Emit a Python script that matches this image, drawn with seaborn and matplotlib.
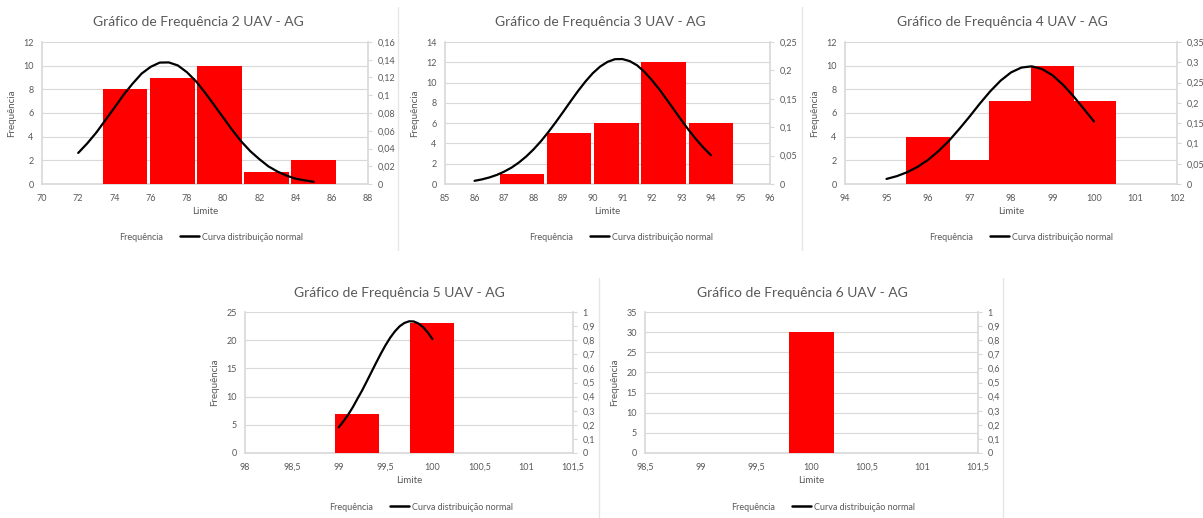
import matplotlib
matplotlib.use("Agg")
import matplotlib.pyplot as plt
import seaborn as sns
from matplotlib.lines import Line2D
from matplotlib.patches import Patch
from matplotlib.ticker import FuncFormatter, MultipleLocator

# ---------------- data ----------------
titles = [
    "Gráfico de Frequência 2 UAV - AG",
    "Gráfico de Frequência 3 UAV - AG",
    "Gráfico de Frequência 4 UAV - AG",
    "Gráfico de Frequência 5 UAV - AG",
    "Gráfico de Frequência 6 UAV - AG",
]

# Panel 2 UAV
uav2_limits = [74.6, 77.2, 79.8, 82.4, 85.0]
uav2_freq = [8, 9, 10, 1, 2]
uav2_curve_x = [72, 72.5, 73, 73.5, 74, 74.5, 75, 75.5, 76, 76.5, 77, 77.5,
                78, 78.5, 79, 79.5, 80, 80.5, 81, 81.5, 82, 82.5, 83, 83.5,
                84, 84.5, 85]
uav2_curve_y = [0.035, 0.0458, 0.058, 0.072, 0.086, 0.1004, 0.113, 0.1244,
                0.132, 0.1368, 0.137, 0.1336, 0.126, 0.1158, 0.103, 0.0891,
                0.075, 0.0609, 0.048, 0.037, 0.028, 0.0199, 0.014, 0.0095,
                0.006, 0.0041, 0.0025]

# Panel 3 UAV
uav3_limits = [87.6, 89.2, 90.8, 92.4, 94.0]
uav3_freq = [1, 5, 6, 12, 6]
uav3_curve_x = [86, 86.25, 86.5, 86.75, 87, 87.25, 87.5, 87.75, 88, 88.25,
                88.5, 88.75, 89, 89.25, 89.5, 89.75, 90, 90.25, 90.5, 90.75,
                91, 91.25, 91.5, 91.75, 92, 92.25, 92.5, 92.75, 93, 93.25,
                93.5, 93.75, 94]
uav3_curve_y = [0.0056, 0.0081, 0.0115, 0.0159, 0.0217, 0.0288, 0.0378,
                0.0485, 0.0611, 0.0755, 0.0916, 0.1089, 0.127, 0.1455,
                0.1635, 0.1802, 0.195, 0.2067, 0.215, 0.2197, 0.220, 0.2164,
                0.209, 0.1975, 0.183, 0.1669, 0.149, 0.1308, 0.1125, 0.0949,
                0.0786, 0.0638, 0.0508]

# Panel 4 UAV
uav4_limits = [96, 97, 98, 99, 100]
uav4_freq = [4, 2, 7, 10, 7]
uav4_curve_x = [95, 95.25, 95.5, 95.75, 96, 96.25, 96.5, 96.75, 97, 97.25,
                97.5, 97.75, 98, 98.25, 98.5, 98.75, 99, 99.25, 99.5, 99.75,
                100]
uav4_curve_y = [0.0125, 0.0194, 0.0291, 0.0423, 0.0594, 0.0808, 0.106,
                0.1352, 0.166, 0.1983, 0.2285, 0.2548, 0.275, 0.287, 0.290,
                0.2832, 0.268, 0.2449, 0.217, 0.1857, 0.154]

# Panel 5 UAV
uav5_limits = [99.2, 100.0]
uav5_freq = [7, 23]
uav5_curve_x = [99.0, 99.05, 99.1, 99.15, 99.2, 99.25, 99.3, 99.35, 99.4,
                99.45, 99.5, 99.55, 99.6, 99.65, 99.7, 99.75, 99.8, 99.85,
                99.9, 99.95, 100.0]
uav5_curve_y = [0.182, 0.2242, 0.271, 0.3243, 0.385, 0.4438, 0.509, 0.5751,
                0.641, 0.7051, 0.765, 0.8183, 0.863, 0.8986, 0.922, 0.934,
                0.933, 0.9187, 0.893, 0.8552, 0.808]

# Panel 6 UAV
uav6_limits = [100.0]
uav6_freq = [30]
uav6_curve_x = []
uav6_curve_y = []

legend_labels = ["Frequência", "Curva distribuição normal"]
xlabel = "Limite"
ylabel = "Frequência"

# ---------------- style ----------------
sns.set_theme(style="white")
plt.rcParams["font.family"] = ["Lato", "DejaVu Sans"]

W, H = 1203, 518
fig = plt.figure(figsize=(W / 100, H / 100), dpi=100)
fig.patch.set_facecolor("white")

GRID = "#D9D9D9"
TXT = "#595959"
RED = "#FF0000"


def fmt(v, pos=None):
    s = f"{v:.2f}".rstrip("0").rstrip(".")
    if s == "-0":
        s = "0"
    return s.replace(".", ",")


panels = [
    (uav2_limits, uav2_freq, uav2_curve_x, uav2_curve_y, 2.45, (70, 88), 2, 12, 2, 0.16, 0.02,
     (42, 368, 42, 184), (198, 22), 200),
    (uav3_limits, uav3_freq, uav3_curve_x, uav3_curve_y, 1.5, (85, 96), 1, 14, 2, 0.25, 0.05,
     (445, 770, 42, 184), (600, 22), 610),
    (uav4_limits, uav4_freq, uav4_curve_x, uav4_curve_y, 1.04, (94, 102), 1, 12, 2, 0.35, 0.05,
     (845, 1177, 42, 184), (1002, 22), 1010),
    (uav5_limits, uav5_freq, uav5_curve_x, uav5_curve_y, 0.47, (98, 101.5), 0.5, 25, 5, 1.0, 0.1,
     (245, 573, 312, 453), (399, 293), 410),
    (uav6_limits, uav6_freq, uav6_curve_x, uav6_curve_y, 0.40, (98.5, 101.5), 0.5, 35, 5, 1.0, 0.1,
     (645, 978, 312, 453), (802, 293), 812),
]

for i, (lims, freq, cx, cy, bw, xlim, xstep, ymax, ystep, y2max, y2step,
        box, tpos, legx) in enumerate(panels):
    l, r, t, b = box
    ax = fig.add_axes([l / W, 1 - b / H, (r - l) / W, (b - t) / H])
    ax2 = ax.twinx()
    ax.set_zorder(1)
    ax2.set_zorder(2)
    ax.patch.set_visible(False)
    ax2.patch.set_visible(False)

    ax.bar(lims, freq, width=bw, color=RED, linewidth=0, zorder=3)
    if len(cx):
        sns.lineplot(x=cx, y=cy, ax=ax2, color="black", linewidth=1.6,
                     solid_capstyle="round", solid_joinstyle="round", legend=False)

    ax.set_xlim(*xlim)
    ax.set_ylim(0, ymax)
    ax2.set_ylim(0, y2max)
    ax.xaxis.set_major_locator(MultipleLocator(xstep))
    ax.yaxis.set_major_locator(MultipleLocator(ystep))
    ax2.yaxis.set_major_locator(MultipleLocator(y2step))
    ax.xaxis.set_major_formatter(FuncFormatter(fmt))
    ax.yaxis.set_major_formatter(FuncFormatter(fmt))
    ax2.yaxis.set_major_formatter(FuncFormatter(fmt))

    ax.grid(axis="y", color=GRID, linewidth=0.8, zorder=0)
    ax.set_axisbelow(True)
    ax2.grid(False)

    for a in (ax, ax2):
        for sp in a.spines.values():
            sp.set_visible(False)
    ax.spines["left"].set_visible(True)
    ax.spines["left"].set_color(GRID)
    ax.spines["bottom"].set_visible(True)
    ax.spines["bottom"].set_color(GRID)
    ax2.spines["right"].set_visible(True)
    ax2.spines["right"].set_color(GRID)

    ax.tick_params(axis="x", length=0, pad=7, labelsize=6.5, labelcolor=TXT)
    ax.tick_params(axis="y", length=0, pad=6, labelsize=6.5, labelcolor=TXT)
    ax2.tick_params(axis="y", length=3, width=0.8, color=GRID, pad=4,
                    labelsize=6.5, labelcolor=TXT, right=True, left=False)

    ax.set_xlabel(xlabel, fontsize=7, color=TXT, labelpad=3)
    ax.set_ylabel(ylabel, fontsize=7, color=TXT, labelpad=5)
    ax2.set_ylabel("")

    fig.text(tpos[0] / W, 1 - tpos[1] / H, titles[i], ha="center", va="center",
             fontsize=10, color=TXT)

    handles = [Patch(facecolor="none", edgecolor="none"),
               Line2D([0], [0], color="black", linewidth=1.8)]
    fig.legend(handles, legend_labels, loc="center",
               bbox_to_anchor=(legx / W, 1 - (237 if i < 3 else 507) / H),
               ncol=2, frameon=False, fontsize=6.5, labelcolor=TXT,
               handlelength=2.2, handletextpad=0.3, columnspacing=1.8)

# chart separators
for x, y0, y1 in [(398, 7, 250), (802, 7, 250), (599, 278, 518), (1003, 278, 518)]:
    fig.add_artist(Line2D([x / W, x / W], [1 - y0 / H, 1 - y1 / H],
                          transform=fig.transFigure, color="#E6E6E6", linewidth=1))

fig.savefig("out.png", dpi=100, facecolor="white")
